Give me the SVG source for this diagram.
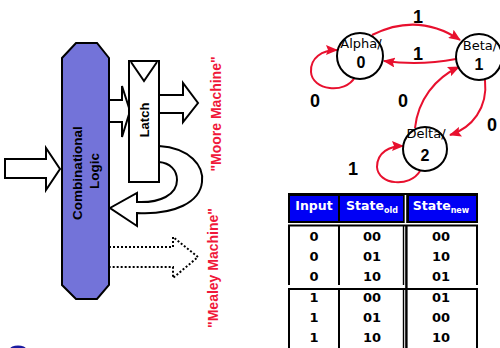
<svg xmlns="http://www.w3.org/2000/svg" width="500" height="348" viewBox="0 0 500 348">
<defs>
<style>
.blk{fill:#fff;stroke:#000;stroke-width:2;stroke-linejoin:miter}
.lbl{font-family:"Liberation Sans",Arial,sans-serif;font-weight:bold;fill:#000}
.red{font-family:"Liberation Sans",Arial,sans-serif;font-weight:bold;fill:#f0183a;font-size:14px}
.edge{fill:none;stroke:#e8102e;stroke-width:2}
.st{fill:#fff;stroke:#000;stroke-width:2}
.sn{font-family:"DejaVu Sans",sans-serif;font-size:13px;fill:#000;text-anchor:middle}
.sd{font-family:"Liberation Sans",Arial,sans-serif;font-weight:bold;font-size:16px;fill:#000;text-anchor:middle}
.el{font-family:"Liberation Sans",Arial,sans-serif;font-weight:bold;font-size:18px;fill:#000;text-anchor:middle}
.hd{font-family:"DejaVu Sans",sans-serif;font-weight:bold;font-size:12.5px;fill:#fff;text-anchor:middle}
.td{font-family:"DejaVu Sans",sans-serif;font-weight:bold;font-size:13px;fill:#000;text-anchor:middle}
</style>
<marker id="ah" markerWidth="12" markerHeight="10" refX="11" refY="5" orient="auto" markerUnits="userSpaceOnUse">
<path d="M0,0 L12,5 L0,10 L2,5 z" fill="#e8102e"/>
</marker>
</defs>
<rect width="500" height="348" fill="#fff"/>

<!-- block diagram -->
<g id="input-arrow"><polygon class="blk" points="5,159 46,159 46,148 60,169 46,190 46,178 5,178"/></g>
<g id="feedback-arrow"><path class="blk" d="M159,146 C190,148 204,166 202,182 C200,202 175,215 137,213 L137,226 L110,208 L137,193 L137,202 C160,203 177,195 177,180 C177,170 170,163 159,162 Z"/></g>
<g id="mealey-arrow"><polyline points="109,247 173,247 173,237 198,257 173,278 173,267 109,267" fill="#fff" stroke="#000" stroke-width="2" stroke-dasharray="2,2"/></g>
<g id="comb-to-latch"><polygon class="blk" points="109,100 122,100 122,86 130,111 122,137 122,122 109,122"/></g>
<g id="moore-arrow"><polygon class="blk" points="159,95 183,95 183,83 198,103 183,122 183,113 159,113"/></g>
<g id="comb-logic">
<polygon points="76,43 97,43 109,58 109,285 97,299 76,299 62,285 62,58" fill="#7373d9" stroke="#000" stroke-width="2"/>
<text class="lbl" font-size="13.5" text-anchor="middle" transform="translate(82,173) rotate(-90)">Combinational</text>
<text class="lbl" font-size="13.5" text-anchor="middle" transform="translate(99,171) rotate(-90)">Logic</text>
</g>
<g id="latch">
<rect class="blk" x="129" y="61" width="30" height="121"/>
<polyline points="131,62 144,81 157,62" fill="none" stroke="#000" stroke-width="2"/>
<text class="lbl" font-size="13" text-anchor="middle" transform="translate(149,120) rotate(-90)">Latch</text>
</g>
<text class="red" text-anchor="middle" transform="translate(221,114) rotate(-90)">"Moore  Machine"</text>
<text class="red" text-anchor="middle" transform="translate(218,268) rotate(-90)">"Mealey Machine"</text>
<ellipse cx="18" cy="349" rx="8" ry="3.5" fill="#1a1aa0"/>

<!-- state diagram -->
<g id="connectors">
<path class="edge" marker-end="url(#ah)" d="M372,35 Q418,12 460,40"/>
<path class="edge" marker-end="url(#ah)" d="M456,59 Q420,66 384,61"/>
<path class="edge" marker-end="url(#ah)" d="M355,77 C345,95 312,90 311,72 C310,58 322,50 337,50"/>
<path class="edge" marker-end="url(#ah)" d="M415,128 C418,100 435,78 459,67"/>
<path class="edge" marker-end="url(#ah)" d="M485,80 C488,108 472,128 450,135"/>
<path class="edge" marker-end="url(#ah)" d="M420,171 C410,188 378,185 377,167 C377,152 390,146 403,146"/>
<text class="el" x="418" y="23">1</text>
<text class="el" x="418" y="60">1</text>
<text class="el" x="315" y="107">0</text>
<text class="el" x="403" y="107">0</text>
<text class="el" x="492" y="131">0</text>
<text class="el" x="353" y="175">1</text>
</g>
<g id="alpha">
<circle class="st" cx="360" cy="56" r="23"/>
<text class="sn" x="361" y="48">Alpha/</text>
<text class="sd" x="361" y="68">0</text>
</g>
<g id="beta">
<circle class="st" cx="479" cy="57" r="23"/>
<text class="sn" x="480" y="50">Beta/</text>
<text class="sd" x="479" y="70">1</text>
</g>
<g id="delta">
<circle class="st" cx="425" cy="149" r="22"/>
<text class="sn" x="426" y="138">Delta/</text>
<text class="sd" x="425" y="161">2</text>
</g>

<!-- table -->
<g id="table">
<rect x="288" y="193" width="190" height="30" fill="#000"/>
<rect x="404.7" y="195" width="1.5" height="28" fill="#fff"/>
<rect x="290" y="196" width="48" height="25" fill="#0000f5"/>
<rect x="340" y="196" width="63" height="25" fill="#0000f5"/>
<rect x="409" y="196" width="67" height="25" fill="#0000f5"/>
<rect x="288" y="224.5" width="190" height="2" fill="#000"/>
<rect x="288" y="226" width="2" height="59" fill="#000"/>
<rect x="338" y="226" width="2" height="59" fill="#000"/>
<rect x="402.8" y="226" width="1.4" height="59" fill="#000"/>
<rect x="405.2" y="226" width="2.4" height="122" fill="#000"/>
<rect x="476" y="226" width="2" height="59" fill="#000"/>
<rect x="288" y="288" width="190" height="2" fill="#000"/>
<rect x="288" y="289" width="2" height="59" fill="#000"/>
<rect x="338" y="289" width="2" height="59" fill="#000"/>
<rect x="402.8" y="289" width="1.4" height="59" fill="#000"/>
<rect x="476" y="289" width="2" height="59" fill="#000"/>
<text class="hd" x="314" y="210">Input</text>
<text class="hd" x="372" y="210">State<tspan font-size="8" dy="3">old</tspan></text>
<text class="hd" x="441" y="210">State<tspan font-size="8" dy="3">new</tspan></text>
<text class="td" x="314" y="241">0</text><text class="td" x="372" y="241">00</text><text class="td" x="441" y="241">00</text>
<text class="td" x="314" y="261">0</text><text class="td" x="372" y="261">01</text><text class="td" x="441" y="261">10</text>
<text class="td" x="314" y="281">0</text><text class="td" x="372" y="281">10</text><text class="td" x="441" y="281">01</text>
<text class="td" x="314" y="302">1</text><text class="td" x="372" y="302">00</text><text class="td" x="441" y="302">01</text>
<text class="td" x="314" y="322">1</text><text class="td" x="372" y="322">01</text><text class="td" x="441" y="322">00</text>
<text class="td" x="314" y="342">1</text><text class="td" x="372" y="342">10</text><text class="td" x="441" y="342">10</text>
</g>
</svg>
